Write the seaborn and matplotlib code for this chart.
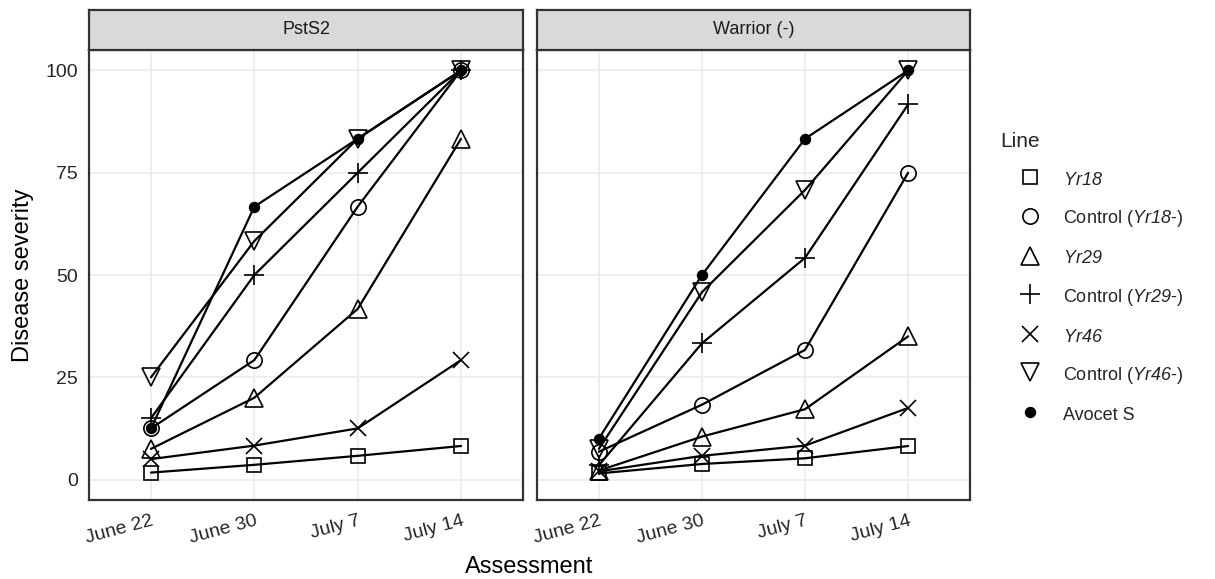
import matplotlib
matplotlib.use("Agg")
import matplotlib.pyplot as plt
from matplotlib.lines import Line2D
import pandas as pd
import seaborn as sns

# Assessment dates and line names
dates = ["June 22", "June 30", "July 7", "July 14"]
lines = ["Yr18", "Control (Yr18-)", "Yr29", "Control (Yr29-)",
         "Yr46", "Control (Yr46-)", "Avocet S"]
panels = ["PstS2", "Warrior (-)"]

# Disease severity, PstS2
pst_yr18 = [1.7, 3.6, 5.8, 8.2]
pst_ctrl18 = [12.5, 29.2, 66.7, 100.0]
pst_yr29 = [7.5, 20.0, 41.7, 83.3]
pst_ctrl29 = [15.0, 50.0, 75.0, 100.0]
pst_yr46 = [5.0, 8.3, 12.5, 29.2]
pst_ctrl46 = [25.0, 58.3, 83.3, 100.0]
pst_avocet = [12.5, 66.7, 83.3, 100.0]

# Disease severity, Warrior (-)
war_yr18 = [1.5, 3.8, 5.2, 8.2]
war_ctrl18 = [6.8, 18.3, 31.7, 75.0]
war_yr29 = [2.2, 10.5, 17.2, 35.0]
war_ctrl29 = [3.5, 33.3, 54.2, 91.7]
war_yr46 = [2.0, 5.8, 8.3, 17.5]
war_ctrl46 = [7.5, 45.8, 70.8, 100.0]
war_avocet = [10.0, 50.0, 83.3, 100.0]

values = {
    "PstS2": [pst_yr18, pst_ctrl18, pst_yr29, pst_ctrl29, pst_yr46, pst_ctrl46, pst_avocet],
    "Warrior (-)": [war_yr18, war_ctrl18, war_yr29, war_ctrl29, war_yr46, war_ctrl46, war_avocet],
}

rows = []
for panel in panels:
    for line, series in zip(lines, values[panel]):
        for i, (date, v) in enumerate(zip(dates, series)):
            rows.append({"panel": panel, "line": line, "date": date, "pos": i, "severity": v})
df = pd.DataFrame(rows)

# ggplot-like shapes: marker, size, filled
shapes = {
    "Yr18": ("s", 10.5, False),
    "Control (Yr18-)": ("o", 11, False),
    "Yr29": ("^", 13, False),
    "Control (Yr29-)": ("+", 15, False),
    "Yr46": ("x", 12, False),
    "Control (Yr46-)": ("v", 13, False),
    "Avocet S": ("o", 7, True),
}

legend_labels = {
    "Yr18": r"$Yr18$",
    "Control (Yr18-)": r"Control ($Yr18$-)",
    "Yr29": r"$Yr29$",
    "Control (Yr29-)": r"Control ($Yr29$-)",
    "Yr46": r"$Yr46$",
    "Control (Yr46-)": r"Control ($Yr46$-)",
    "Avocet S": "Avocet S",
}

sns.set_theme(style="whitegrid")
plt.rcParams["font.family"] = ["Liberation Sans", "DejaVu Sans"]
# math parts are only the italic gene names, so both math fonts are italic
plt.rcParams["mathtext.fontset"] = "custom"
plt.rcParams["mathtext.rm"] = "Liberation Sans:italic"
plt.rcParams["mathtext.it"] = "Liberation Sans:italic"

W, H = 1215, 579
fig = plt.figure(figsize=(W / 100, H / 100), dpi=100)
fig.patch.set_facecolor("white")

edge = "#333333"
panel_boxes = [(89, 523), (537, 970)]
top, bottom, strip_top = 50, 500, 10

for k, (panel, (x0, x1)) in enumerate(zip(panels, panel_boxes)):
    ax = fig.add_axes([x0 / W, (H - bottom) / H, (x1 - x0) / W, (bottom - top) / H])
    ax.set_facecolor("white")
    sub = df[df.panel == panel]
    for line in lines:
        marker, ms, filled = shapes[line]
        d = sub[sub.line == line]
        sns.lineplot(data=d, x="pos", y="severity", ax=ax, color="black",
                     lw=1.6, marker=marker, markersize=ms,
                     mfc="black" if filled else "none", mec="black",
                     mew=1.2, legend=False, sort=False)
    ax.set_xlim(-0.6, 3.6)
    ax.set_ylim(-5, 105)
    ax.set_xticks(range(len(dates)))
    ax.set_xticklabels(dates, rotation=15, ha="right", va="top",
                       rotation_mode="anchor", fontsize=14, color="#262626")
    ax.set_yticks([0, 25, 50, 75, 100])
    ax.grid(True, color="#EBEBEB", lw=1.2)
    ax.set_axisbelow(True)
    ax.set_xlabel("")
    ax.set_ylabel("")
    for s in ax.spines.values():
        s.set_color(edge)
        s.set_linewidth(1.6)
    ax.tick_params(axis="x", length=4, width=1.1, color=edge, pad=5)
    if k == 0:
        ax.tick_params(axis="y", length=4, width=1.1, color=edge, pad=4,
                       labelsize=14, labelcolor="#262626")
    else:
        ax.tick_params(axis="y", length=0, labelleft=False)

    # facet strip
    sax = fig.add_axes([x0 / W, (H - top) / H, (x1 - x0) / W, (top - strip_top) / H])
    sax.set_facecolor("#D9D9D9")
    sax.set_xticks([])
    sax.set_yticks([])
    sax.grid(False)
    for s in sax.spines.values():
        s.set_color(edge)
        s.set_linewidth(1.6)
    sax.text(0.5, 0.5, panel, ha="center", va="center", fontsize=13,
             color="#1A1A1A", transform=sax.transAxes)

fig.text((89 + 970) / 2 / W, 1 - 567 / H, "Assessment", ha="center", va="center",
         fontsize=17, color="black")
fig.text(23 / W, 1 - 275 / H, "Disease severity", ha="center", va="center",
         rotation=90, fontsize=17, color="black")

handles = []
for line in lines:
    marker, ms, filled = shapes[line]
    handles.append(Line2D([], [], linestyle="none", marker=marker, markersize=ms,
                          mfc="black" if filled else "none", mec="black", mew=1.2))

fig.legend(handles, [legend_labels[l] for l in lines], loc="upper left",
           bbox_to_anchor=(1000 / W, 1 - 132 / H), frameon=False, title="Line",
           alignment="left", fontsize=13, title_fontsize=15, handlelength=3.3,
           handletextpad=0.2, handleheight=1.2, labelspacing=1.04,
           borderpad=0, borderaxespad=0)

fig.savefig("out.png", dpi=100)
